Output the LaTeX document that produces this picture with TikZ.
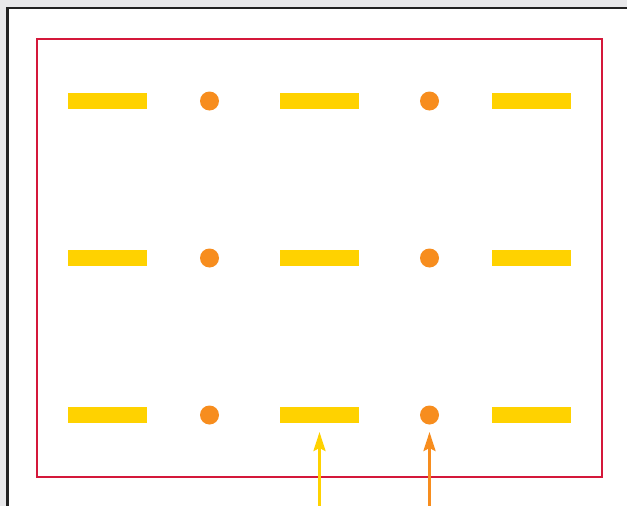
\documentclass[tikz,border=0pt]{standalone}
\usetikzlibrary{arrows.meta}
\definecolor{bgGrey}{HTML}{E8E8EA}
\definecolor{frameBlack}{HTML}{222222}
\definecolor{boxRed}{HTML}{D4183A}
\definecolor{barYellow}{HTML}{FFD200}
\definecolor{dotOrange}{HTML}{F78D1E}
\tikzset{
  bar/.style={fill=barYellow, draw=none, minimum width=79pt, minimum height=16pt, inner sep=0pt, outer sep=0pt},
  dot/.style={circle, fill=dotOrange, draw=none, minimum size=19pt, inner sep=0pt, outer sep=0pt},
  uparrow/.style={line width=3pt, -{Stealth[length=19pt, width=12pt, inset=3pt]}},
}
\begin{document}
\begin{tikzpicture}[x=1pt, y=-1pt]
  \useasboundingbox (0,0) rectangle (627,506);
  \clip (0,0) rectangle (627,506);
  \fill[bgGrey] (0,0) rectangle (627,506);
  \draw[frameBlack, line width=2.5pt, fill=white] (7.5,8) rectangle (660,540);
  \draw[boxRed, line width=2pt] (37,38.5) rectangle (602,477);
  % rows
  \foreach \r/\y in {1/101, 2/258, 3/415} {
    \node[bar] (b\r a) at (107.5,\y) {};
    \node[dot] (d\r a) at (209.5,\y) {};
    \node[bar] (b\r b) at (319.5,\y) {};
    \node[dot] (d\r b) at (429.5,\y) {};
    \node[bar] (b\r c) at (531.5,\y) {};
  }
  \coordinate (ya) at (319.5,520);
  \coordinate (oa) at (429.5,520);
  \draw[uparrow, barYellow] (ya) -- ([yshift=-9pt]b3b.south);
  \draw[uparrow, dotOrange] (oa) -- ([yshift=-7.5pt]d3b.south);
\end{tikzpicture}
\end{document}
